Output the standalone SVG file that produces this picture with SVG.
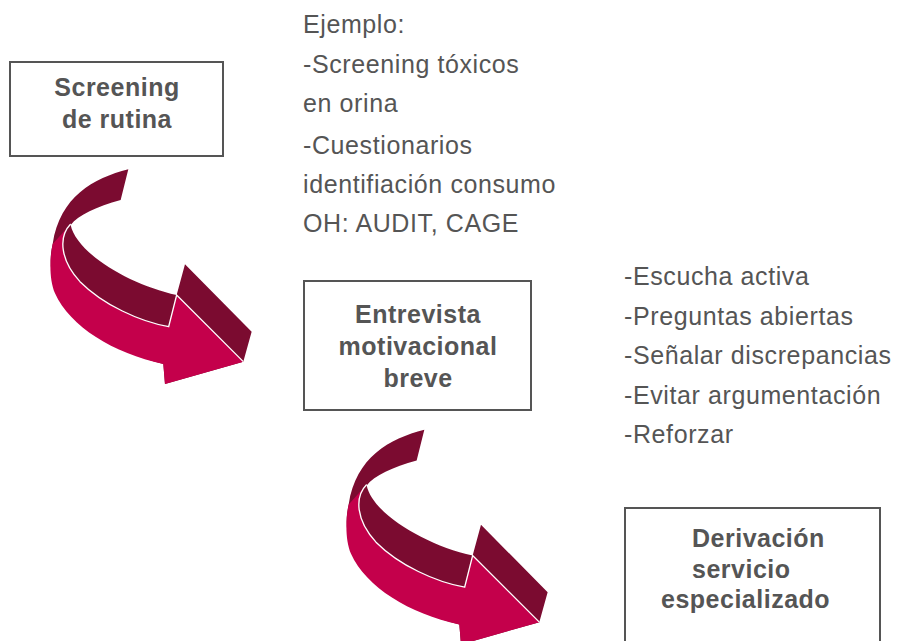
<svg xmlns="http://www.w3.org/2000/svg" xmlns:xlink="http://www.w3.org/1999/xlink" width="897" height="641" viewBox="0 0 897 641">
<style>
.box{fill:#fff;stroke:#555;stroke-width:2}
.bt{font-family:"Liberation Sans",Arial,sans-serif;font-weight:bold;font-size:25px;fill:#555;letter-spacing:0.5px}
.t{font-family:"Liberation Sans",Arial,sans-serif;font-size:25px;fill:#555;letter-spacing:0.6px}
.dark{fill:#7B0B30}
.pink{fill:#C4004B}
.wl{fill:none;stroke:#fff;stroke-width:4;stroke-linejoin:miter}
</style>
<defs>
<g id="curvedArrow">
<path class="dark" d="M295,28 L272,120 C200,140 145,165 122,195 C140,280 300,375 440,405 L465,313 L665,515 L640,605 L405,672 L400,612 C200,560 60,450 62,300 C62,282 65,265 68,252 C90,110 190,55 295,28 Z"/>
<path class="pink" d="M68,252 L122,192 C85,230 90,300 150,365 C220,435 330,485 416,500 L440,405 L640,605 L405,672 L400,612 C250,580 120,500 75,400 C58,360 58,300 68,252 Z"/>
<path class="wl" d="M122,192 C85,230 90,300 150,365 C220,435 330,485 416,500 L440,405 L640,605"/>
</g>
</defs>
<g id="connectors">
<use xlink:href="#curvedArrow" href="#curvedArrow" transform="translate(30,160) scale(0.3333)"/>
<use xlink:href="#curvedArrow" href="#curvedArrow" transform="translate(326,420.5) scale(0.3333)"/>
</g>
<g id="node-screening">
<rect class="box" x="10" y="62" width="213" height="94"/>
<text class="bt" x="117" y="96" text-anchor="middle">Screening</text>
<text class="bt" x="117" y="128" text-anchor="middle">de rutina</text>
</g>
<g id="node-entrevista">
<rect class="box" x="304" y="281" width="227" height="129"/>
<text class="bt" x="418" y="323" text-anchor="middle">Entrevista</text>
<text class="bt" x="418" y="355" text-anchor="middle">motivacional</text>
<text class="bt" x="418" y="387" text-anchor="middle">breve</text>
</g>
<g id="node-derivacion">
<rect class="box" x="625" y="508" width="255" height="140"/>
<text class="bt" x="692" y="547">Derivación</text>
<text class="bt" x="692" y="578">servicio</text>
<text class="bt" x="661" y="608">especializado</text>
</g>
<g id="note-ejemplo">
<text class="t" x="303" y="33">Ejemplo:</text>
<text class="t" x="303" y="72.5">-Screening tóxicos</text>
<text class="t" x="303" y="112">en orina</text>
<text class="t" x="303" y="154">-Cuestionarios</text>
<text class="t" x="303" y="193">identifiación consumo</text>
<text class="t" x="303" y="231.5">OH: AUDIT, CAGE</text>
</g>
<g id="note-tecnicas">
<text class="t" x="624" y="285">-Escucha activa</text>
<text class="t" x="624" y="324.5">-Preguntas abiertas</text>
<text class="t" x="624" y="364">-Señalar discrepancias</text>
<text class="t" x="624" y="403.5">-Evitar argumentación</text>
<text class="t" x="624" y="443">-Reforzar</text>
</g>
</svg>
